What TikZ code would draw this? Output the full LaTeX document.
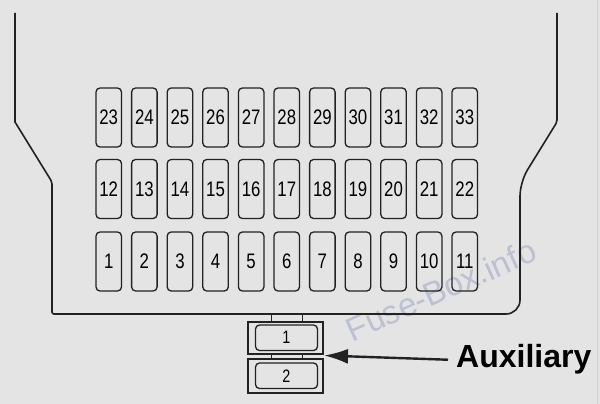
\documentclass[tikz,border=0pt]{standalone}
\usepackage{fontspec}
\setmainfont{Liberation Sans}
\usetikzlibrary{arrows.meta,calc}
\definecolor{bgray}{RGB}{228,228,228}
\definecolor{ink}{RGB}{34,34,34}
\definecolor{wmark}{RGB}{188,192,210}
\newcommand{\fnum}[1]{\scalebox{0.8}[1]{#1}}
\begin{document}
\begin{tikzpicture}[x=1pt,y=-1pt,
    fuse/.style={draw=ink,line width=1.3pt,rounded corners=4pt,minimum width=25.5pt,
      minimum height=59pt,inner sep=0pt,text=black,font=\fontsize{21}{21}\selectfont},
    auxbox/.style={draw=ink,line width=1.8pt,minimum width=75pt,inner sep=0pt},
    auxfuse/.style={draw=ink,line width=1.3pt,rounded corners=4pt,minimum width=62pt,
      minimum height=25.5pt,inner sep=0pt,text=black,font=\fontsize{18}{18}\selectfont},
    stub/.style={draw=ink,line width=0.8pt}]
  \useasboundingbox (0,0) rectangle (600,404);
  \fill[bgray] (0,0) rectangle (600,404);
  \draw[gray!35,line width=0.8pt] (597,0) -- (597,404);
  % watermark
  \node[text=wmark,rotate=24,font=\fontsize{33}{33}\selectfont] (wm) at (441,290) {Fuse-Box.info};
  % housing
  \draw[ink,line width=1.6pt] (15,13) -- (15,122) [rounded corners=2pt] -- (52,182)
    -- (52,314) [rounded corners=14pt] -- (520,314) -- (520,182) [rounded corners=2pt]
    -- (557,122) -- (557,13);
  \coordinate (bot) at (0,314);
  % fuses
  \foreach \i in {0,...,10} {
    \pgfmathtruncatemacro\a{\i+1}
    \pgfmathtruncatemacro\b{\i+12}
    \pgfmathtruncatemacro\c{\i+23}
    \node[fuse] (f\a) at ({108.75+35.6*\i},261.5) {\fnum{\a}};
    \node[fuse] (f\b) at ({108.75+35.6*\i},189) {\fnum{\b}};
    \node[fuse] (f\c) at ({108.75+35.6*\i},117.5) {\fnum{\c}};
  }
  % auxiliary fuses
  \node[auxbox,minimum height=32pt] (aux1) at (285.5,338) {};
  \node[auxbox,minimum height=34pt] (aux2) at (285.5,376) {};
  \node[auxfuse] (a1) at (286.5,337.75) {\fnum{1}};
  \node[auxfuse] (a2) at (286.5,375.75) {\fnum{2}};
  \foreach \dx in {-14.5,16.5} {
    \draw[stub] ([xshift=\dx pt]aux1.north) -- ([xshift=\dx pt]aux1.north |- bot);
    \draw[stub] ([xshift=\dx pt]aux1.south) -- ([xshift=\dx pt]aux2.north);
  }
  % label
  \node[anchor=base west,inner sep=0pt,text=black,font=\fontsize{32}{32}\selectfont\bfseries] (aux) at (456,367) {Auxiliary};
  \coordinate (tip) at (324,355.5);
  \draw[ink,line width=2.4pt,-{Latex[length=24pt,width=15pt]}] ([xshift=-8pt,yshift=-1pt]aux.west) -- (tip);
\end{tikzpicture}
\end{document}
